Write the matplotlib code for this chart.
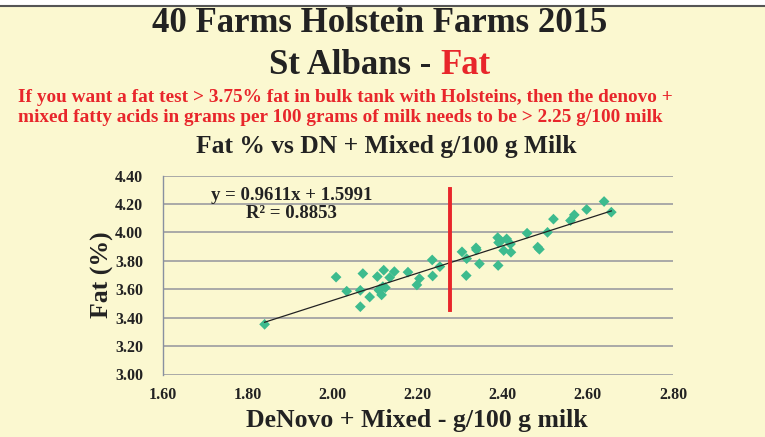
import matplotlib
matplotlib.use("Agg")
import matplotlib.pyplot as plt
import numpy as np
from matplotlib.lines import Line2D

plt.rcParams['font.family'] = ['Liberation Serif', 'DejaVu Serif']
plt.rcParams['font.weight'] = 'bold'

# Data (DeNovo + Mixed g/100 g milk, Fat %)
dn_mixed = [1.840, 2.008, 2.033, 2.071, 2.065, 2.065, 2.087, 2.105, 2.120, 2.134,
            2.145, 2.110, 2.118, 2.124, 2.115, 2.109, 2.177, 2.198, 2.204, 2.234,
            2.235, 2.252, 2.304, 2.315, 2.314, 2.337, 2.338, 2.345, 2.388, 2.390,
            2.395, 2.409, 2.418, 2.402, 2.419, 2.389, 2.457, 2.482, 2.486, 2.505,
            2.519, 2.559, 2.568, 2.597, 2.638, 2.655]
fat_pct = [3.353, 3.685, 3.586, 3.710, 3.592, 3.477, 3.545, 3.689, 3.734, 3.682,
           3.724, 3.600, 3.618, 3.611, 3.560, 3.592, 3.720, 3.630, 3.675, 3.806,
           3.693, 3.759, 3.863, 3.815, 3.696, 3.891, 3.877, 3.779, 3.963, 3.928,
           3.938, 3.954, 3.918, 3.872, 3.860, 3.767, 3.994, 3.896, 3.881, 4.000,
           4.093, 4.083, 4.123, 4.161, 4.217, 4.142]
slope, intercept = 0.9611, 1.5991
r_squared = 0.8853
threshold_x = 2.275
threshold_y = [3.455, 4.305]

x_ticks = [1.60, 1.80, 2.00, 2.20, 2.40, 2.60, 2.80]
y_ticks = [3.00, 3.20, 3.40, 3.60, 3.80, 4.00, 4.20, 4.40]

W, H = 765, 437
bg = '#FBF8D0'
fig = plt.figure(figsize=(W / 100, H / 100), dpi=100, facecolor='white')

# yellow panel with dark top border
fig.patches.append(plt.Rectangle((0, 0), 1, 1 - 6 / H, transform=fig.transFigure,
                                 facecolor=bg, edgecolor='none', zorder=-10))
fig.lines.append(Line2D([0, 1], [1 - 6 / H, 1 - 6 / H], transform=fig.transFigure,
                        color='#555555', lw=1.5))

def fx(px):
    return px / W

def fy(py):
    return 1 - py / H

ax = fig.add_axes([fx(162.5), fy(374.5), (673 - 162.5) / W, (374.5 - 175.5) / H])
ax.set_facecolor(bg)
ax.set_xlim(1.6, 2.8)
ax.set_ylim(3.0, 4.4)
ax.set_xticks(x_ticks)
ax.set_yticks(y_ticks)
ax.set_xticklabels([f'{v:.2f}' for v in x_ticks], fontsize=11.5, fontweight='bold', color='#222222')
ax.set_yticklabels([f'{v:.2f}' for v in y_ticks], fontsize=11.5, fontweight='bold', color='#222222')
ax.tick_params(axis='both', length=0)
ax.tick_params(axis='x', pad=9)
ax.tick_params(axis='y', pad=14)
for s in ['top', 'right', 'bottom']:
    ax.spines[s].set_visible(False)
ax.spines['left'].set_color('#8890A0')
ax.spines['left'].set_linewidth(1.0)
ax.grid(axis='y', color='#9C9CA0', linewidth=1.2)
ax.set_axisbelow(True)

ax.scatter(dn_mixed, fat_pct, marker='D', s=30, color='#3DBB8E', edgecolors='none', zorder=3)
xfit = np.array([min(dn_mixed), max(dn_mixed)])
ax.plot(xfit, slope * xfit + intercept, color='#222222', lw=0.9, zorder=4)
ax.plot([threshold_x, threshold_x], threshold_y, color='#E8262B', lw=2.8, zorder=5)

ax.text(1.904, 4.262, f'y = {slope}x + {intercept}', ha='center', va='center',
        fontsize=13.5, fontweight='bold', color='#222222')
ax.text(1.904, 4.135, f'R² = {r_squared}', ha='center', va='center',
        fontsize=13.5, fontweight='bold', color='#222222')

fig.text(fx(417), fy(421), 'DeNovo + Mixed - g/100 g milk', ha='center', va='center',
         fontsize=18.5, fontweight='bold', color='#222222')
fig.text(fx(102), fy(275), 'Fat (%)', ha='center', va='center', rotation=90,
         fontsize=18.5, fontweight='bold', color='#222222')

fig.text(fx(380), fy(24), '40 Farms Holstein Farms 2015', ha='center', va='center',
         fontsize=25, fontweight='bold', color='#222222')
fig.text(fx(440), fy(66), 'St Albans - ', ha='right', va='center',
         fontsize=25, fontweight='bold', color='#222222')
fig.text(fx(440), fy(66), 'Fat', ha='left', va='center',
         fontsize=25, fontweight='bold', color='#E8262B')
fig.text(fx(18), fy(97), 'If you want a fat test > 3.75% fat in bulk tank with Holsteins, then the denovo +',
         ha='left', va='center', fontsize=13.9, fontweight='bold', color='#E8262B')
fig.text(fx(18), fy(118), 'mixed fatty acids in grams per 100 grams of milk needs to be > 2.25 g/100 milk',
         ha='left', va='center', fontsize=13.9, fontweight='bold', color='#E8262B')
fig.text(fx(386), fy(147), 'Fat % vs DN + Mixed g/100 g Milk', ha='center', va='center',
         fontsize=18.4, fontweight='bold', color='#222222')

fig.savefig('out.png', dpi=100, facecolor=fig.get_facecolor())
